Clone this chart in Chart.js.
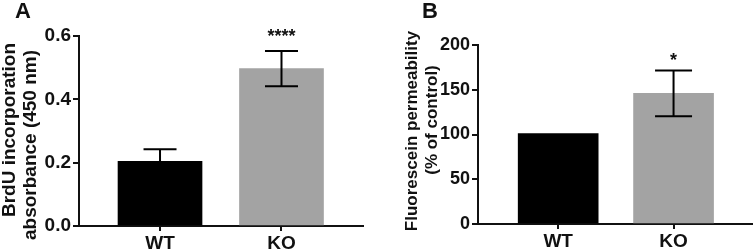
<!DOCTYPE html>
<html>
<head>
<meta charset="utf-8">
<script src="https://cdn.jsdelivr.net/npm/chart.js@4.4.1/dist/chart.umd.min.js"></script>
<style>
  html, body { margin: 0; padding: 0; background: #fff; }
  #wrap { position: relative; width: 754px; height: 252px; overflow: hidden; }
  .box { position: absolute; top: 0; height: 252px; }
</style>
</head>
<body>
<div id="wrap">
  <div class="box" style="left:0;width:377px"><canvas id="cA" width="377" height="252"></canvas></div>
  <div class="box" style="left:377px;width:377px"><canvas id="cB" width="377" height="252"></canvas></div>
</div>
<script>
// ---- data ----
const categories = ['WT', 'KO'];
const brduValues = [0.204, 0.497];
const brduErrors = [0.038, 0.056];
const brduSig = ['', '****'];
const brduTicks = [0, 0.2, 0.4, 0.6];

const fluoValues = [101, 146];
const fluoErrors = [0, 25.5];
const fluoSig = ['', '*'];
const fluoTicks = [0, 50, 100, 150, 200];

const barColors = ['#000000', '#a3a3a3'];
const FONT = "'Liberation Sans', Arial, Helvetica, sans-serif";

// error bars + significance marks + texts
const extrasPlugin = {
  id: 'extras',
  afterDatasetsDraw(chart, args, opts) {
    const ctx = chart.ctx;
    const xs = chart.scales.x, ys = chart.scales.y;
    ctx.save();
    ctx.strokeStyle = '#000';
    ctx.lineWidth = 2;
    opts.values.forEach((v, i) => {
      const e = opts.errors[i];
      const x = xs.getPixelForValue(i);
      const yt = ys.getPixelForValue(v + e);
      const yb = ys.getPixelForValue(v - e);
      if (e > 0) {
        ctx.beginPath();
        ctx.moveTo(x, yt); ctx.lineTo(x, yb);
        ctx.moveTo(x - opts.cap / 2, yt); ctx.lineTo(x + opts.cap / 2, yt);
        ctx.moveTo(x - opts.cap / 2, yb); ctx.lineTo(x + opts.cap / 2, yb);
        ctx.stroke();
      }
      if (opts.sig[i]) {
        ctx.fillStyle = '#111';
        ctx.font = 'bold 18px ' + FONT;
        ctx.textAlign = 'center';
        ctx.textBaseline = 'middle';
        ctx.fillText(opts.sig[i], x, yt - opts.sigGap);
      }
    });
    ctx.restore();
  },
  afterDraw(chart, args, opts) {
    const ctx = chart.ctx;
    ctx.save();
    ctx.fillStyle = '#111';
    opts.texts.forEach(t => {
      ctx.save();
      ctx.translate(t.x, t.y);
      ctx.rotate(t.rot || 0);
      ctx.font = t.font;
      ctx.textAlign = 'center';
      ctx.textBaseline = 'middle';
      ctx.fillText(t.text, 0, 0);
      ctx.restore();
    });
    ctx.restore();
  }
};

function makeChart(id, cfg) {
  return new Chart(document.getElementById(id), {
    type: 'bar',
    data: {
      datasets: [{
        data: cfg.values.map((v, i) => ({ x: i, y: v })),
        backgroundColor: barColors,
        borderWidth: 0,
        barThickness: cfg.barW,
        grouped: false
      }]
    },
    options: {
      responsive: false,
      animation: false,
      events: [],
      layout: { padding: { left: 0, top: cfg.top, right: cfg.right, bottom: 0 } },
      plugins: {
        legend: { display: false },
        tooltip: { enabled: false },
        extras: { values: cfg.values, errors: cfg.errors, sig: cfg.sig, cap: cfg.cap, sigGap: cfg.sigGap, texts: cfg.texts }
      },
      scales: {
        x: {
          type: 'linear',
          offset: false,
          min: cfg.xmin, max: cfg.xmax,
          afterBuildTicks(s) { s.ticks = categories.map((_, i) => ({ value: i })); },
          afterFit(s) { s.height = cfg.xH; },
          ticks: {
            callback: (v) => categories[v],
            font: { family: FONT, size: 19, weight: 'bold' },
            color: '#111', padding: 1, maxRotation: 0, autoSkip: false
          },
          grid: { display: true, offset: false, drawOnChartArea: false, drawTicks: true, tickLength: 5, color: '#111', lineWidth: 2 },
          border: { display: true, color: '#111', width: 2 }
        },
        y: {
          min: cfg.ticks[0], max: cfg.ticks[cfg.ticks.length - 1],
          afterBuildTicks(s) { s.ticks = cfg.ticks.map(v => ({ value: v })); },
          afterFit(s) { s.width = cfg.yW; },
          ticks: {
            callback: cfg.fmt,
            font: { family: FONT, size: cfg.tickSize, weight: 'bold' },
            color: '#111', padding: 2
          },
          grid: { display: true, drawOnChartArea: false, drawTicks: true, tickLength: 6, color: '#111', lineWidth: 2 },
          border: { display: true, color: '#111', width: 2 }
        }
      }
    },
    plugins: [extrasPlugin]
  });
}

const R = -Math.PI / 2;
makeChart('cA', {
  values: brduValues, errors: brduErrors, sig: brduSig, ticks: brduTicks,
  fmt: (v) => v.toFixed(1), tickSize: 19,
  barW: 84, cap: 33, sigGap: 14,
  xmin: -0.667, xmax: 1.671, yW: 79, xH: 26, top: 36, right: 14,
  texts: [
    { text: 'A', x: 23, y: 12, font: 'bold 22px ' + FONT },
    { text: 'BrdU incorporation', x: 10, y: 130, rot: R, font: 'bold 19px ' + FONT },
    { text: 'absorbance (450 nm)', x: 31, y: 145, rot: R, font: 'bold 19px ' + FONT }
  ]
});

makeChart('cB', {
  values: fluoValues, errors: fluoErrors, sig: fluoSig, ticks: fluoTicks,
  fmt: (v) => String(v), tickSize: 18,
  barW: 80, cap: 37, sigGap: 9,
  xmin: -0.695, xmax: 1.68, yW: 101, xH: 28, top: 45, right: 2,
  texts: [
    { text: 'B', x: 53, y: 12, font: 'bold 22px ' + FONT },
    { text: 'Fluorescein permeability', x: 35, y: 131, rot: R, font: 'bold 17px ' + FONT },
    { text: '(% of control)', x: 55, y: 120, rot: R, font: 'bold 17px ' + FONT }
  ]
});
</script>
</body>
</html>
